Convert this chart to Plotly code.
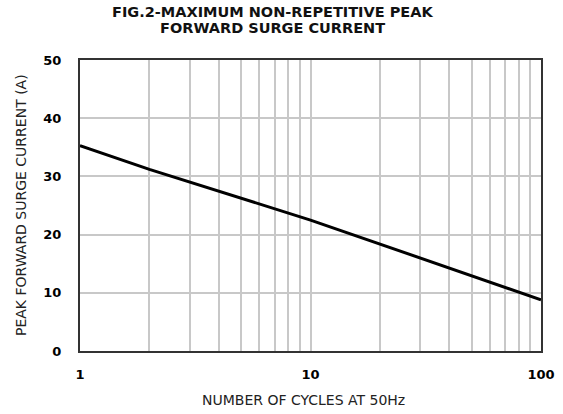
import plotly.graph_objects as go

cycles = [1, 2, 10, 20, 100]
current = [35.3, 31.2, 22.5, 18.4, 8.8]
y_ticks = [0, 10, 20, 30, 40, 50]
x_ticks = [1, 10, 100]
title_lines = ["FIG.2-MAXIMUM NON-REPETITIVE PEAK", "FORWARD SURGE CURRENT"]

FONT = "DejaVu Sans, Liberation Sans, Arial, sans-serif"

fig = go.Figure()
fig.add_trace(go.Scatter(x=cycles, y=current, mode="lines",
                         line=dict(color="black", width=3), showlegend=False))

fig.update_layout(
    width=563, height=414,
    margin=dict(l=80, r=22, t=60, b=63, autoexpand=False),
    paper_bgcolor="white", plot_bgcolor="white",
    font=dict(family=FONT, color="black"),
)
for i, (txt, ypix) in enumerate(zip(title_lines, [12, 28])):
    fig.add_annotation(text=f"<b>{txt}</b>", xref="paper", yref="paper",
                       x=(272 - 80) / 461, y=1 + (60 - ypix) / 291,
                       xanchor="center", yanchor="middle", showarrow=False,
                       font=dict(size=14.5, family=FONT, color="#111"))
fig.add_annotation(text="NUMBER OF CYCLES AT 50Hz", xref="paper", yref="paper",
                   x=(303 - 80) / 461, y=-(400 - 351) / 291,
                   xanchor="center", yanchor="middle", showarrow=False,
                   font=dict(size=14, family=FONT, color="#222"))
fig.add_annotation(text="PEAK FORWARD SURGE CURRENT (A)", xref="paper", yref="paper",
                   x=-(80 - 21) / 461, y=(351 - 205) / 291, textangle=-90,
                   xanchor="center", yanchor="middle", showarrow=False,
                   font=dict(size=14, family=FONT, color="#222"))

fig.update_xaxes(
    type="log", range=[0, 2], automargin=False,
    tickvals=x_ticks, ticktext=[f"<b>{v}</b>" for v in x_ticks],
    tickfont=dict(size=13, family=FONT),
    showgrid=True, gridcolor="#c8c8c8", gridwidth=1.5,
    minor=dict(showgrid=True, gridcolor="#c8c8c8", gridwidth=1.5, dtick="D1"),
    showline=True, linecolor="#333", linewidth=2, mirror=True,
    ticks="", ticklabelstandoff=10,
)
fig.update_yaxes(
    range=[0, 50], tickvals=y_ticks, automargin=False,
    ticktext=[f"<b>{v}</b>" for v in y_ticks],
    tickfont=dict(size=13, family=FONT),
    showgrid=True, gridcolor="#c8c8c8", gridwidth=1.5,
    showline=True, linecolor="#333", linewidth=2, mirror=True,
    zeroline=False, ticks="", ticklabelstandoff=14,
)

fig.write_html("out.html", config={"displayModeBar": False},
               post_script="document.body.style.margin='0';")
